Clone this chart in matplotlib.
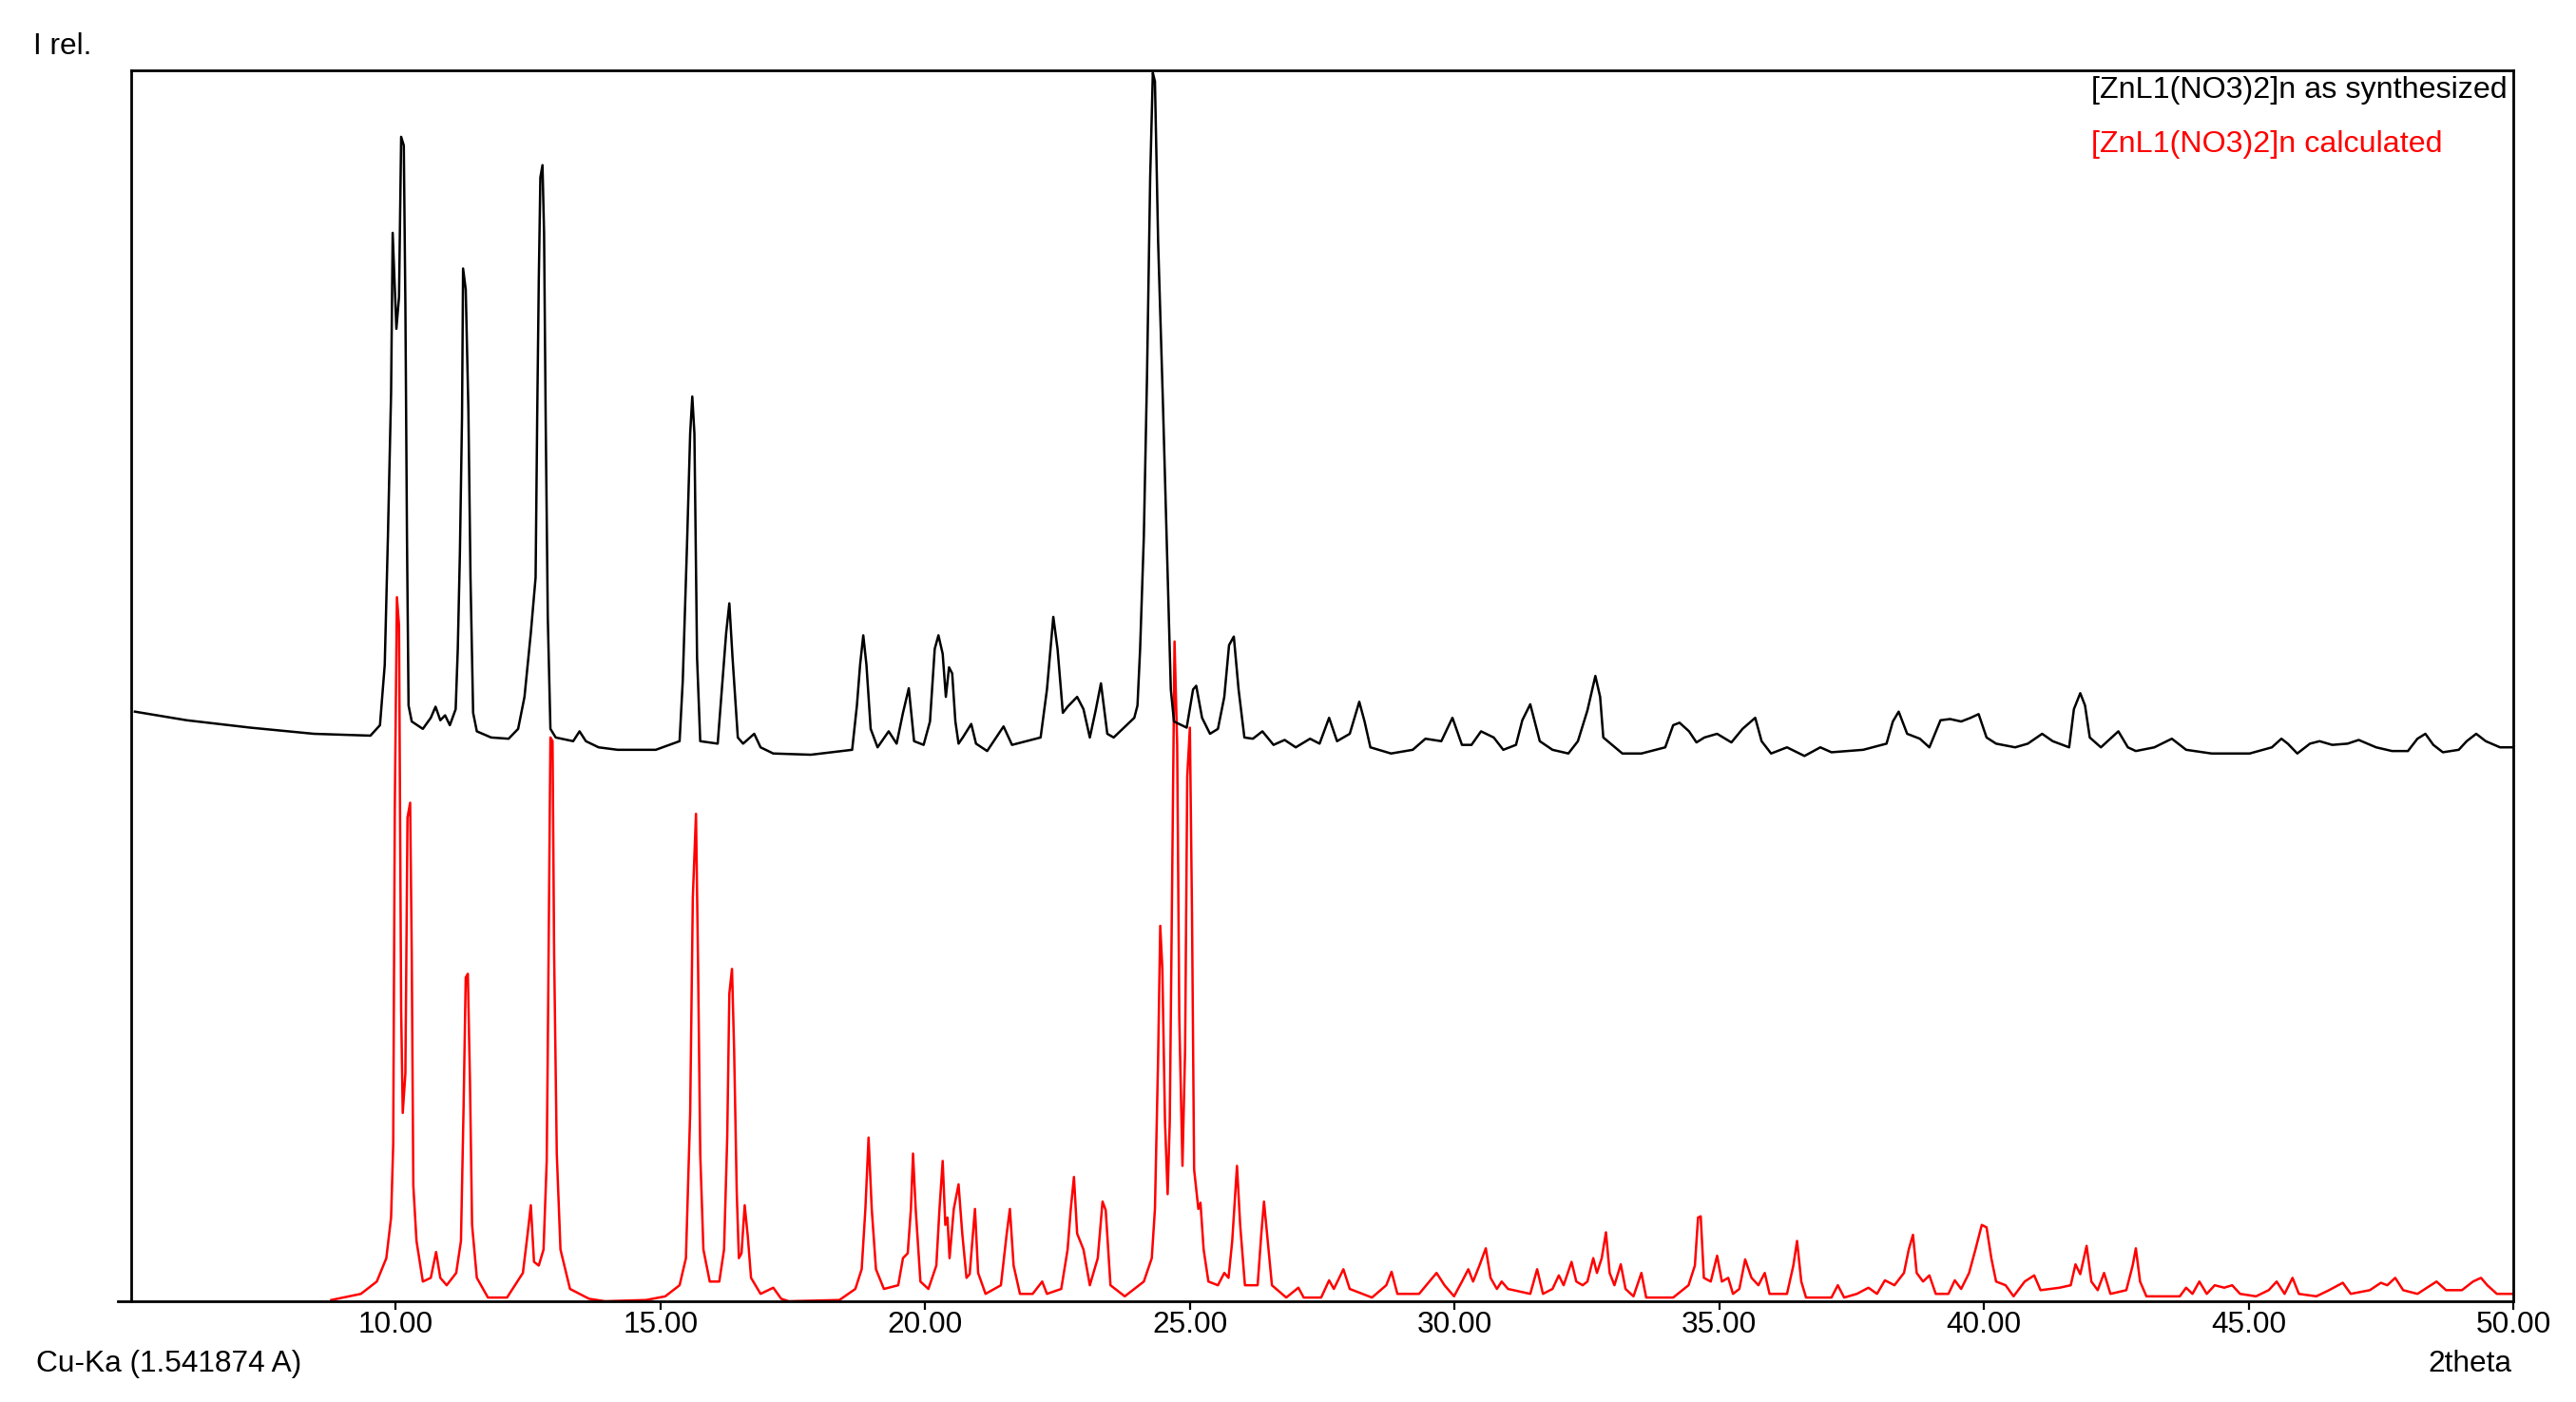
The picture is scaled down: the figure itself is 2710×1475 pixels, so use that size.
import numpy as np
import matplotlib
matplotlib.use('Agg')
import matplotlib.pyplot as plt
from matplotlib.lines import Line2D

plt.rcParams['font.family'] = ['Liberation Sans', 'DejaVu Sans']

meas_pts = [
    (5.07, 47.9), (6.05, 47.2), (7.25, 46.6), (8.45, 46.1), (9.52, 45.95), (9.70, 46.8),
    (9.79, 51.7), (9.85, 62.1), (9.91, 73.8), (9.94, 86.8), (10.01, 79.0), (10.06, 81.6),
    (10.10, 94.6), (10.15, 93.9), (10.18, 80.9), (10.21, 62.1), (10.24, 48.4), (10.30, 47.1),
    (10.51, 46.5), (10.66, 47.4), (10.75, 48.3), (10.84, 47.2), (10.93, 47.6), (11.02, 46.8),
    (11.13, 48.1), (11.17, 53.0), (11.21, 60.8), (11.25, 71.8), (11.27, 83.9), (11.32, 82.2),
    (11.37, 72.5), (11.41, 58.8), (11.46, 47.8), (11.53, 46.3), (11.80, 45.8), (12.13, 45.7),
    (12.31, 46.5), (12.43, 49.1), (12.55, 54.3), (12.64, 58.8), (12.67, 71.8), (12.70, 82.9),
    (12.73, 91.3), (12.77, 92.3), (12.80, 86.8), (12.83, 71.8), (12.87, 55.6), (12.92, 46.5),
    (13.02, 45.8), (13.35, 45.5), (13.47, 46.3), (13.59, 45.5), (13.83, 45.0), (14.19, 44.8),
    (14.91, 44.8), (15.36, 45.5), (15.42, 50.4), (15.50, 61.4), (15.56, 70.5), (15.60, 73.5),
    (15.64, 70.5), (15.69, 52.3), (15.75, 45.5), (16.08, 45.3), (16.17, 50.4), (16.24, 54.3),
    (16.30, 56.7), (16.36, 52.3), (16.46, 45.8), (16.56, 45.3), (16.77, 46.1), (16.89, 45.0),
    (17.13, 44.5), (17.84, 44.4), (18.62, 44.8), (18.71, 48.4), (18.77, 51.7), (18.83, 54.1),
    (18.89, 51.7), (18.97, 46.5), (19.10, 45.0), (19.31, 46.3), (19.46, 45.3), (19.58, 47.8),
    (19.69, 49.8), (19.79, 45.5), (19.97, 45.2), (20.09, 47.1), (20.18, 53.0), (20.25, 54.1),
    (20.33, 52.6), (20.39, 49.1), (20.45, 51.5), (20.51, 51.0), (20.57, 47.1), (20.63, 45.3),
    (20.71, 45.8), (20.87, 46.9), (20.96, 45.3), (21.17, 44.7), (21.34, 45.8), (21.48, 46.7),
    (21.64, 45.2), (21.91, 45.5), (22.18, 45.8), (22.30, 49.7), (22.42, 55.6), (22.50, 53.0),
    (22.60, 47.8), (22.69, 48.3), (22.87, 49.1), (22.99, 48.1), (23.11, 45.8), (23.22, 48.0),
    (23.32, 50.2), (23.44, 46.1), (23.56, 45.8), (23.95, 47.4), (24.01, 48.4), (24.06, 53.0),
    (24.13, 62.1), (24.19, 75.1), (24.25, 91.3), (24.30, 99.8), (24.34, 99.1), (24.40, 86.1),
    (24.49, 73.1), (24.56, 62.1), (24.64, 49.7), (24.70, 47.1), (24.94, 46.6), (25.06, 49.7),
    (25.12, 50.0), (25.23, 47.4), (25.38, 46.1), (25.53, 46.5), (25.65, 49.1), (25.74, 53.3),
    (25.83, 54.0), (25.92, 49.7), (26.03, 45.8), (26.19, 45.7), (26.37, 46.3), (26.58, 45.2),
    (26.79, 45.6), (27.00, 45.0), (27.27, 45.7), (27.45, 45.3), (27.63, 47.4), (27.78, 45.5),
    (28.02, 46.1), (28.20, 48.7), (28.30, 47.1), (28.41, 45.0), (28.80, 44.5), (29.21, 44.8),
    (29.45, 45.7), (29.75, 45.5), (29.96, 47.4), (30.14, 45.2), (30.32, 45.2), (30.50, 46.3),
    (30.74, 45.8), (30.92, 44.8), (31.16, 45.2), (31.28, 47.2), (31.43, 48.5), (31.61, 45.5),
    (31.85, 44.8), (32.15, 44.5), (32.33, 45.5), (32.51, 48.0), (32.66, 50.8), (32.75, 49.1),
    (32.81, 45.8), (33.17, 44.5), (33.53, 44.5), (33.98, 45.0), (34.13, 46.8), (34.25, 47.0),
    (34.43, 46.3), (34.57, 45.4), (34.72, 45.8), (34.96, 46.1), (35.23, 45.4), (35.44, 46.5),
    (35.68, 47.4), (35.80, 45.5), (35.98, 44.5), (36.28, 45.0), (36.61, 44.3), (36.91, 45.0),
    (37.12, 44.6), (37.72, 44.8), (38.16, 45.3), (38.28, 47.1), (38.39, 47.9), (38.55, 46.1),
    (38.79, 45.7), (38.97, 45.0), (39.18, 47.2), (39.36, 47.3), (39.57, 47.1), (39.75, 47.4),
    (39.90, 47.7), (40.05, 45.8), (40.23, 45.3), (40.59, 45.0), (40.83, 45.3), (41.10, 46.1),
    (41.30, 45.5), (41.61, 45.0), (41.70, 48.1), (41.82, 49.4), (41.91, 48.4), (42.00, 45.8),
    (42.21, 45.0), (42.54, 46.3), (42.72, 45.0), (42.87, 44.7), (43.22, 45.0), (43.55, 45.7),
    (43.82, 44.8), (44.30, 44.5), (45.02, 44.5), (45.44, 45.0), (45.62, 45.7), (45.74, 45.3),
    (45.92, 44.5), (46.16, 45.3), (46.34, 45.5), (46.58, 45.2), (46.87, 45.3), (47.08, 45.6),
    (47.41, 45.0), (47.71, 44.7), (48.01, 44.7), (48.19, 45.7), (48.34, 46.1), (48.49, 45.2),
    (48.67, 44.6), (48.97, 44.8), (49.12, 45.5), (49.30, 46.1), (49.48, 45.5), (49.75, 45.0),
    (50.00, 45.0),
]

# calculated pattern
calc_pts = [
    (8.78, 0.1), (9.34, 0.6), (9.64, 1.6), (9.82, 3.5), (9.91, 6.8), (9.95, 12.7), (9.98, 40.0),
    (10.02, 57.2), (10.06, 54.9), (10.10, 23.7), (10.13, 15.3), (10.18, 18.5), (10.22, 39.3),
    (10.27, 40.5), (10.30, 28.3), (10.33, 9.4), (10.39, 4.9), (10.51, 1.6), (10.66, 1.9),
    (10.76, 4.0), (10.84, 1.9), (10.96, 1.3), (11.14, 2.3), (11.23, 4.9), (11.28, 15.9),
    (11.32, 26.3), (11.36, 26.6), (11.40, 17.9), (11.44, 6.2), (11.53, 1.9), (11.74, 0.3),
    (12.10, 0.3), (12.40, 2.3), (12.49, 5.5), (12.55, 7.8), (12.61, 3.2), (12.70, 2.9),
    (12.79, 4.2), (12.85, 11.4), (12.87, 20.5), (12.92, 45.8), (12.96, 45.5), (12.99, 28.3),
    (13.04, 12.0), (13.11, 4.2), (13.29, 1.0), (13.65, 0.2), (13.95, 0.0), (14.73, 0.1),
    (15.09, 0.4), (15.36, 1.3), (15.48, 3.5), (15.56, 15.3), (15.61, 32.8), (15.67, 39.6),
    (15.71, 27.0), (15.75, 12.0), (15.81, 4.2), (15.93, 1.6), (16.11, 1.6), (16.20, 4.2),
    (16.26, 13.3), (16.30, 25.0), (16.35, 27.0), (16.39, 20.5), (16.44, 8.8), (16.48, 3.5),
    (16.53, 3.9), (16.59, 7.8), (16.65, 5.2), (16.71, 1.9), (16.89, 0.6), (17.13, 1.1),
    (17.28, 0.2), (17.42, 0.0), (18.38, 0.1), (18.68, 1.0), (18.80, 2.6), (18.87, 7.5),
    (18.93, 13.3), (18.99, 7.5), (19.07, 2.6), (19.22, 1.0), (19.49, 1.3), (19.58, 3.5),
    (19.67, 3.9), (19.73, 7.5), (19.77, 12.0), (19.82, 7.5), (19.91, 1.6), (20.06, 1.0),
    (20.21, 2.9), (20.27, 7.5), (20.33, 11.4), (20.38, 6.2), (20.42, 6.8), (20.46, 3.5),
    (20.54, 7.5), (20.63, 9.5), (20.70, 5.5), (20.78, 1.9), (20.84, 2.2), (20.94, 7.5),
    (21.00, 2.3), (21.14, 0.6), (21.43, 1.3), (21.54, 5.5), (21.60, 7.5), (21.67, 2.9),
    (21.79, 0.6), (22.03, 0.6), (22.21, 1.6), (22.30, 0.6), (22.57, 1.0), (22.69, 4.2),
    (22.75, 7.5), (22.81, 10.1), (22.87, 5.5), (22.99, 4.2), (23.11, 1.3), (23.26, 3.5),
    (23.35, 8.1), (23.41, 7.4), (23.50, 1.3), (23.77, 0.4), (24.13, 1.6), (24.28, 3.5),
    (24.34, 7.5), (24.40, 19.8), (24.44, 30.5), (24.48, 27.0), (24.53, 14.6), (24.58, 8.7),
    (24.62, 14.6), (24.67, 36.7), (24.71, 53.6), (24.76, 45.2), (24.80, 23.0), (24.86, 11.0),
    (24.91, 20.5), (24.95, 42.6), (25.00, 46.6), (25.04, 31.5), (25.08, 10.7), (25.16, 7.5),
    (25.20, 8.0), (25.26, 4.2), (25.35, 1.6), (25.53, 1.3), (25.65, 2.3), (25.73, 1.9),
    (25.80, 4.9), (25.89, 11.0), (25.95, 6.2), (26.04, 1.3), (26.28, 1.3), (26.35, 5.5),
    (26.40, 8.1), (26.47, 4.9), (26.55, 1.3), (26.82, 0.3), (27.05, 1.1), (27.15, 0.3),
    (27.48, 0.3), (27.63, 1.7), (27.72, 1.0), (27.90, 2.6), (28.02, 1.0), (28.44, 0.3),
    (28.71, 1.3), (28.81, 2.4), (28.92, 0.6), (29.33, 0.6), (29.66, 2.3), (29.81, 1.3),
    (29.99, 0.4), (30.14, 1.6), (30.26, 2.6), (30.35, 1.6), (30.47, 2.9), (30.59, 4.3),
    (30.68, 1.9), (30.80, 1.0), (30.89, 1.6), (31.01, 1.0), (31.43, 0.6), (31.56, 2.6),
    (31.67, 0.6), (31.85, 1.0), (31.97, 2.1), (32.06, 1.3), (32.21, 3.2), (32.30, 1.6),
    (32.42, 1.3), (32.51, 1.6), (32.62, 3.5), (32.69, 2.3), (32.78, 3.5), (32.86, 5.6),
    (32.93, 2.3), (33.02, 1.3), (33.14, 3.0), (33.23, 1.0), (33.38, 0.4), (33.53, 2.3),
    (33.62, 0.3), (34.13, 0.3), (34.42, 1.3), (34.54, 2.9), (34.60, 6.8), (34.65, 6.9),
    (34.71, 1.9), (34.84, 1.6), (34.96, 3.7), (35.05, 1.6), (35.17, 1.9), (35.26, 0.6),
    (35.38, 1.0), (35.49, 3.4), (35.61, 1.9), (35.74, 1.3), (35.86, 2.3), (35.95, 0.6),
    (36.28, 0.6), (36.40, 2.9), (36.47, 4.9), (36.55, 1.6), (36.64, 0.3), (37.12, 0.3),
    (37.24, 1.3), (37.36, 0.3), (37.60, 0.6), (37.82, 1.1), (37.98, 0.6), (38.13, 1.7),
    (38.31, 1.3), (38.49, 2.3), (38.58, 4.2), (38.66, 5.4), (38.73, 2.3), (38.85, 1.6),
    (38.97, 2.1), (39.09, 0.6), (39.33, 0.6), (39.45, 1.7), (39.57, 1.0), (39.72, 2.3),
    (39.84, 4.2), (39.96, 6.2), (40.05, 6.0), (40.14, 3.5), (40.23, 1.6), (40.41, 1.3),
    (40.56, 0.4), (40.77, 1.6), (40.95, 2.1), (41.07, 0.9), (41.43, 1.1), (41.64, 1.3),
    (41.73, 3.0), (41.82, 2.2), (41.94, 4.5), (42.03, 1.6), (42.15, 0.9), (42.27, 2.3),
    (42.39, 0.6), (42.69, 0.9), (42.81, 2.9), (42.87, 4.3), (42.95, 1.6), (43.07, 0.4),
    (43.70, 0.4), (43.82, 1.1), (43.94, 0.6), (44.07, 1.6), (44.21, 0.6), (44.36, 1.3),
    (44.54, 1.1), (44.69, 1.3), (44.84, 0.6), (45.14, 0.4), (45.38, 0.9), (45.53, 1.6),
    (45.68, 0.6), (45.83, 1.9), (45.95, 0.6), (46.28, 0.4), (46.52, 0.9), (46.78, 1.5),
    (46.93, 0.6), (47.29, 0.9), (47.50, 1.5), (47.62, 1.3), (47.77, 1.9), (47.92, 0.9),
    (48.19, 0.6), (48.37, 1.1), (48.55, 1.6), (48.73, 0.9), (49.03, 0.9), (49.24, 1.6),
    (49.39, 1.9), (49.51, 1.3), (49.69, 0.6), (50.00, 0.6),
]

xticks = [10, 15, 20, 25, 30, 35, 40, 45, 50]
series_names = ['[ZnL1(NO3)2]n as synthesized', '[ZnL1(NO3)2]n calculated']

W, H = 2710, 1475
fig = plt.figure(figsize=(W / 100, H / 100), dpi=100)
# axes box in pixels: left 138, right 2644, top 74, bottom 1369
ax = fig.add_axes([138 / W, 1 - 1369 / H, (2644 - 138) / W, (1369 - 74) / H])

meas = np.array(meas_pts)
calc = np.array(calc_pts)
ax.plot(calc[:, 0], calc[:, 1], color='#ff0000', lw=1.8)
ax.plot(meas[:, 0], meas[:, 1], color='black', lw=1.8)

ax.set_xlim(5, 50)
ax.set_ylim(0, 100)
ax.set_xticks(xticks)
ax.set_xticklabels(['%.2f' % t for t in xticks])
ax.set_yticks([])
fs = 22.8
ax.tick_params(axis='x', direction='out', length=6.5, width=1.6, pad=0.5,
               labelsize=fs, colors='black')
for s in ax.spines.values():
    s.set_linewidth(2.0)
    s.set_zorder(3)

# small extension of the baseline to the left of the frame
fig.add_artist(Line2D([124 / W, 138 / W], [1 - 1369 / H, 1 - 1369 / H],
                      color='black', lw=2.0))

fig.text(35 / W, 1 - 57 / H, 'I rel.', fontsize=fs, ha='left', va='baseline')
fig.text(38 / W, 1 - 1443 / H, 'Cu-Ka (1.541874 A)', fontsize=fs, ha='left', va='baseline')
fig.text(2642 / W, 1 - 1443 / H, '2theta', fontsize=fs, ha='right', va='baseline')
fig.text(2200 / W, 1 - 103 / H, series_names[0], fontsize=23.2, ha='left', va='baseline',
         color='black')
fig.text(2200 / W, 1 - 160 / H, series_names[1], fontsize=23.2, ha='left', va='baseline',
         color='#ff0000')

fig.savefig('out.png', dpi=100)
